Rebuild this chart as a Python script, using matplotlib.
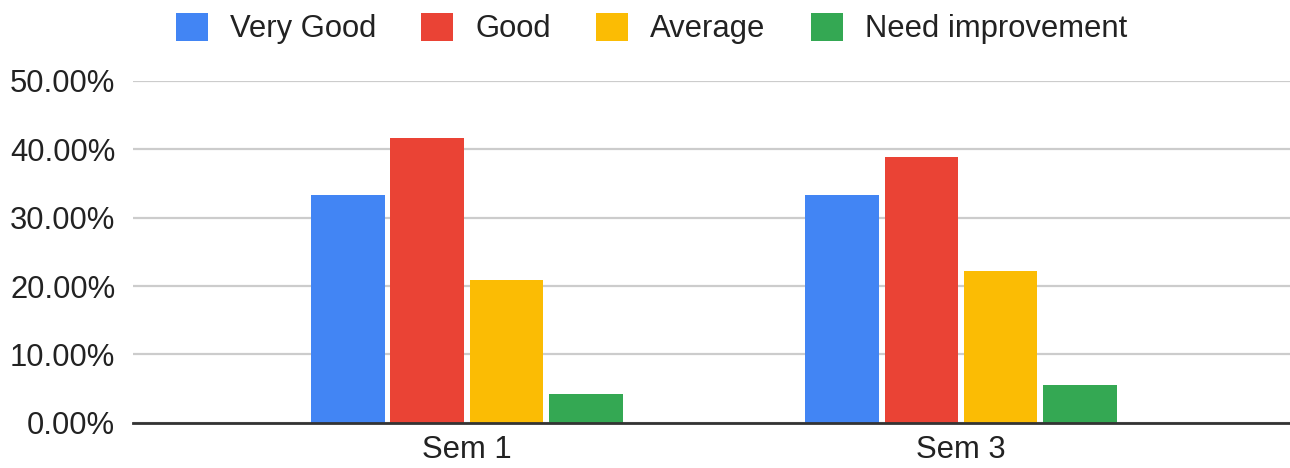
import numpy as np
import matplotlib
matplotlib.use('Agg')
import matplotlib.pyplot as plt
from matplotlib.patches import Patch

plt.rcParams['font.family'] = ['Liberation Sans', 'DejaVu Sans']

# data (percent of students per rating)
semesters = ['Sem 1', 'Sem 3']
ratings = ['Very Good', 'Good', 'Average', 'Need improvement']
very_good = [33.33, 33.33]
good = [41.67, 38.89]
average = [20.83, 22.22]
need_improvement = [4.17, 5.56]
colors = ['#4285F4', '#EA4335', '#FBBC04', '#34A853']

series = [very_good, good, average, need_improvement]
text_color = '#222222'

fig = plt.figure(figsize=(12.9, 4.68), dpi=100)
ax = fig.add_axes([132.7 / 1290, 45.3 / 468, 1 - 132.7 / 1290, (387 - 45.3) / 468])

x = np.arange(len(semesters))
width = 0.1488
step = 0.1606
for i, (vals, c) in enumerate(zip(series, colors)):
    ax.bar(x + (i - 1.5) * step, vals, width=width, color=c, zorder=3)

ax.set_ylim(0, 50)
ax.set_xlim(-0.6764, 1.6659)
ax.set_yticks(np.arange(0, 51, 10))
ax.set_yticklabels([f'{v:.2f}%' for v in np.arange(0, 51, 10)])
ax.set_xticks(x)
ax.set_xticklabels(semesters)
ax.tick_params(axis='y', length=0, pad=12.5, labelsize=22.3, labelcolor=text_color)
ax.tick_params(axis='x', length=0, pad=9, labelsize=22.3, labelcolor=text_color)

ax.grid(axis='y', color='#cccccc', linewidth=1.6, zorder=0)
for s in ['top', 'right', 'left']:
    ax.spines[s].set_visible(False)
ax.spines['bottom'].set_color('#333333')
ax.spines['bottom'].set_linewidth(2)
ax.spines['bottom'].set_zorder(4)

handles = [Patch(facecolor=c, edgecolor='none') for c in colors]
fig.legend(handles, ratings, loc='center left', bbox_to_anchor=(176 / 1290, 1 - 28.5 / 468),
           ncol=4, frameon=False, fontsize=22.3, labelcolor=text_color,
           handlelength=1.03, handleheight=1.03, handletextpad=0.72,
           columnspacing=1.45, borderpad=0, borderaxespad=0)

fig.savefig('out.png', dpi=100)
